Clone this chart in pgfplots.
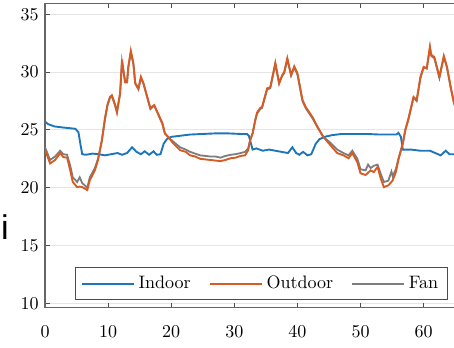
\documentclass[border=0pt]{standalone}
\usepackage{fontspec}
\newfontfamily\arialfont{Liberation Sans}
\usepackage{pgfplots}
\usepackage{pgfplotstable}
\pgfplotsset{compat=1.18}
\definecolor{cIn}{RGB}{30,118,186}
\definecolor{cOut}{RGB}{214,92,36}
\definecolor{cFan}{RGB}{125,125,125}

\pgfplotstableread{
x y
0 25.7
0.5 25.5
1.5 25.3
3 25.2
4.8 25.1
5.3 24.8
5.6 23.8
5.9 22.9
6.5 22.85
7.5 22.95
8.5 22.9
9.5 22.8
10.5 22.9
11.5 23.0
12.2 22.85
13.0 23.0
13.8 23.5
14.5 23.1
15.2 22.9
15.8 23.15
16.5 22.85
17.2 23.15
17.7 22.85
18.3 22.9
18.8 23.8
19.3 24.2
20.0 24.4
21.5 24.5
23 24.6
25 24.65
27 24.7
29 24.7
31 24.65
32.0 24.65
32.3 24.5
32.9 23.3
33.5 23.4
34.5 23.2
35.5 23.3
36.5 23.2
37.5 23.1
38.5 23.0
39.2 23.5
39.8 23.0
40.3 22.85
40.9 23.1
41.6 22.8
42.2 22.9
42.9 23.8
43.5 24.2
44.3 24.4
45.5 24.55
47 24.65
49 24.65
51 24.65
53 24.6
55 24.6
55.7 24.6
56.0 24.75
56.4 24.4
56.7 23.3
57.2 23.3
58 23.3
59.5 23.2
61 23.2
62.7 22.8
63.5 23.2
64.1 22.9
65.5 22.9
}\indoor

\pgfplotstableread{
x out fan
0 23.3 23.5
0.8 22.1 22.4
1.6 22.4 22.7
2.4 23.0 23.2
2.9 22.65 22.9
3.5 22.6 22.85
4.0 21.5 21.9
4.4 20.5 20.9
5.1 20.05 20.5
5.5 20.1 20.9
5.9 20.05 20.4
6.7 19.8 20.0
7.1 20.65 20.9
7.9 21.5 21.7
8.4 22.4 22.5
9.0 24.1 24.0
9.5 26.0 25.9
9.9 27.2 27.1
10.3 27.85 27.8
10.6 28.0 27.9
11.1 27.2 27.1
11.4 26.55 26.5
11.9 28.2 28.1
12.2 31.05 30.9
12.7 29.15 29.1
13.0 29.15 29.1
13.2 30.45 30.4
13.6 31.85 31.7
14.0 30.8 30.7
14.3 29.05 29.0
14.8 28.6 28.5
15.2 29.6 29.5
15.6 29.05 29.0
16.2 27.85 27.8
16.7 26.9 26.8
17.3 27.15 27.1
17.8 26.55 26.5
18.6 25.6 25.5
19.0 24.7 24.7
19.5 24.4 24.4
20.3 23.85 24.0
21.4 23.25 23.5
22.3 23.1 23.3
23.0 22.8 23.1
23.8 22.7 22.95
24.6 22.5 22.8
25.4 22.45 22.75
26.2 22.4 22.7
27.0 22.35 22.7
27.8 22.3 22.6
28.6 22.4 22.75
29.4 22.55 22.85
30.2 22.6 22.9
31.0 22.75 23.0
31.7 22.8 23.1
32.2 23.25 23.4
32.5 24.1 24.1
32.9 24.7 24.7
33.3 25.8 25.8
33.6 26.5 26.4
34.1 26.9 26.8
34.4 27.0 26.9
35.2 28.6 28.5
35.7 28.7 28.6
36.5 30.8 30.7
37.1 29.05 29.0
37.6 29.75 29.7
37.9 30.0 29.9
38.4 31.2 31.1
39.0 29.75 29.7
39.5 30.5 30.4
40.0 29.9 29.8
40.8 27.6 27.5
41.3 27.0 26.9
42.4 26.1 26.0
43.2 25.25 25.2
44.1 24.4 24.4
45.2 23.7 23.9
46.3 23.0 23.3
47.3 22.8 23.0
48.1 22.55 22.8
48.7 23.0 23.2
49.5 22.2 22.5
50.0 21.25 21.6
50.8 21.1 21.5
51.2 21.3 22.0
51.6 21.5 21.7
52.1 21.35 21.9
52.7 21.8 22.0
53.2 20.8 21.2
53.7 20.05 20.5
54.4 20.2 20.6
54.9 20.5 21.4
55.1 20.65 21.0
55.6 21.35 21.6
56.0 22.4 22.5
56.7 23.85 23.8
57.1 25.0 25.0
57.6 26.0 25.9
58.4 27.85 27.8
58.9 27.6 27.5
59.5 29.6 29.5
60.0 30.45 30.4
60.5 30.35 30.3
61.0 32.2 32.1
61.2 31.5 31.4
61.7 31.3 31.2
62.5 29.6 29.5
63.2 31.4 31.3
63.7 30.45 30.4
64.3 28.7 28.6
64.8 27.4 27.3
65.5 26.5 26.4
}\outfan

\begin{document}
\begin{tikzpicture}
\begin{axis}[
  at={(0,0)}, anchor=south west,
  scale only axis, width=229.4pt, height=168.75pt,
  xmin=0, xmax=65.5, ymin=9.65, ymax=35.95,
  xtick={0,10,...,60}, ytick={10,15,...,35},
  tick align=inside, major tick length=2.5pt,
  ymajorgrids, grid style={color=black!10, line width=0.5pt},
  axis line style={black!60, line width=0.6pt},
  tick style={black!70, line width=0.5pt},
  xticklabel style={yshift=-6.5pt},
  legend columns=3,
  legend style={at={(0.0726,0.024)}, anchor=south west,
    draw=black!70, line width=0.6pt, inner xsep=3pt, inner ysep=2.5pt,
    /tikz/every even column/.append style={column sep=8pt}},
  legend image code/.code={\draw[#1] (0pt,0pt) -- (29pt,0pt);},
  clip=true,
]
\addplot[cFan, line width=1pt, forget plot] table[x=x, y=fan] {\outfan};
\addplot[cIn, line width=1.05pt] table[x=x, y=y] {\indoor};
\addplot[cOut, line width=1.05pt] table[x=x, y=out] {\outfan};
\addlegendimage{cFan, line width=1pt}
\legend{Indoor, Outdoor, Fan}
\end{axis}
\node[anchor=base, inner sep=0pt, font=\fontsize{19}{19}\selectfont\arialfont] at (-22.2pt,37.4pt) {i};
\pgfresetboundingbox
\path[use as bounding box] (-24.98pt,-22.04pt) rectangle (227.0pt,170.6pt);
\end{tikzpicture}
\end{document}
